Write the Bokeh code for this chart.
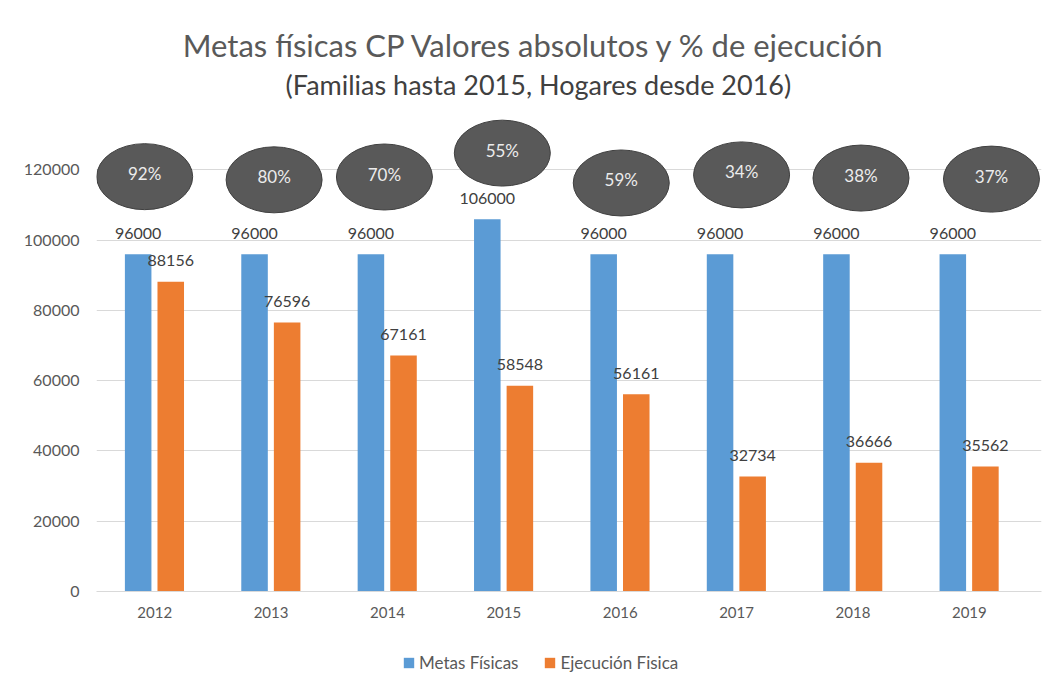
from bokeh.plotting import figure
from bokeh.layouts import column
from bokeh.models import (Range1d, FixedTicker, Label, Legend, LegendItem,
                          ColumnDataSource)
from bokeh.transform import dodge
from bokeh.embed import file_html
from bokeh.resources import INLINE
from bokeh.core.properties import value

# ---------------- data ----------------
years = ["2012", "2013", "2014", "2015", "2016", "2017", "2018", "2019"]
metas = [96000, 96000, 96000, 106000, 96000, 96000, 96000, 96000]
ejecucion = [88156, 76596, 67161, 58548, 56161, 32734, 36666, 35562]
y_ticks = [0, 20000, 40000, 60000, 80000, 100000, 120000]
series_names = ["Metas Físicas", "Ejecución Fisica"]

# ---------------- layout constants (bubble placement) ----------------
ELL_DX = [-0.086, 0.026, -0.026, -0.013, 0.009, 0.043, 0.069, 0.19]
ELL_Y = [118100, 117200, 118000, 124800, 116300, 118600, 117700, 117400]

FONT = "Lato"
BLUE = "#5B9BD5"
ORANGE = "#ED7D31"

idx = list(range(len(years)))
pct = [f"{round(e / m * 100)}%" for e, m in zip(ejecucion, metas)]

src = ColumnDataSource(dict(
    x=idx, metas=metas, ejec=ejecucion,
    metas_lbl=[str(v) for v in metas],
    ejec_lbl=[str(v) for v in ejecucion],
    ex=[i + d for i, d in zip(idx, ELL_DX)], ey=ELL_Y, pct=pct,
))

p = figure(width=1045, height=630, output_backend="svg", toolbar_location=None,
           title=None,
           x_range=Range1d(-0.5, 7.62), y_range=Range1d(0, 168250),
           min_border_left=96, min_border_right=4, min_border_top=0,
           min_border_bottom=39)
p.outline_line_color = None
p.background_fill_color = "white"
p.border_fill_color = "white"

# axes
p.xaxis.ticker = FixedTicker(ticks=idx)
p.xaxis.major_label_overrides = {i: y for i, y in zip(idx, years)}
p.xaxis.axis_line_color = "#d9d9d9"
p.xaxis.major_tick_line_color = None
p.xaxis.minor_tick_line_color = None
p.xaxis.major_label_text_font = FONT
p.xaxis.major_label_text_font_size = "15px"
p.xaxis.major_label_text_color = "#595959"
p.xaxis.major_label_standoff = 9

p.yaxis.ticker = FixedTicker(ticks=y_ticks)
p.yaxis.axis_line_color = None
p.yaxis.major_tick_line_color = None
p.yaxis.minor_tick_line_color = None
p.yaxis.major_label_text_font = FONT
p.yaxis.major_label_text_font_size = "16px"
p.yaxis.major_label_text_color = "#595959"
p.yaxis.major_label_standoff = 11
p.yaxis.formatter.use_scientific = False

p.xgrid.grid_line_color = None
p.ygrid.grid_line_color = "#d9d9d9"
p.ygrid.grid_line_width = 1

# bars
r1 = p.vbar(x=dodge("x", -0.142, range=p.x_range), top="metas", width=0.228,
            source=src, fill_color=BLUE, line_color=None)
r2 = p.vbar(x=dodge("x", 0.138, range=p.x_range), top="ejec", width=0.228,
            source=src, fill_color=ORANGE, line_color=None)

# data labels
p.text(x=dodge("x", -0.142, range=p.x_range), y="metas", text="metas_lbl",
       source=src, text_align="center", text_baseline="middle", y_offset=-21,
       text_font=value(FONT), text_font_size="16px", text_color="#404040")
p.text(x=dodge("x", 0.138, range=p.x_range), y="ejec", text="ejec_lbl",
       source=src, text_align="center", text_baseline="middle", y_offset=-21,
       text_font=value(FONT), text_font_size="16px", text_color="#404040")

# percentage bubbles
p.ellipse(x="ex", y="ey", width=96, height=66, width_units="screen",
          height_units="screen", source=src, fill_color="#595959",
          line_color="#404040", line_width=1)
p.text(x="ex", y="ey", text="pct", source=src, text_align="center",
       text_baseline="middle", y_offset=-3, text_font=value(FONT),
       text_font_size="17px", text_color="#ececec")

# titles
p.add_layout(Label(x=3.297, y=155587, text="Metas físicas CP Valores absolutos y  % de ejecución",
                   text_align="center", text_baseline="middle", text_font=FONT,
                   text_font_size="31px", text_color="#595959"))
p.add_layout(Label(x=3.297, y=144200, text="(Familias hasta 2015, Hogares desde 2016)",
                   text_align="center", text_baseline="middle", text_font=FONT,
                   text_font_size="27px", text_color="#404040"))

# legend (in its own strip below the chart)
q = figure(width=1045, height=45, output_backend="svg", toolbar_location=None,
           title=None, x_range=Range1d(0, 1), y_range=Range1d(0, 1),
           min_border_left=96, min_border_right=4, min_border_top=0,
           min_border_bottom=0)
q.axis.visible = False
q.grid.visible = False
q.outline_line_color = None
q.border_fill_color = "white"
q.background_fill_color = "white"
# placeholder glyphs (outside the visible range) that only supply legend swatches
l1 = q.quad(left=[5], right=[6], bottom=[0], top=[1], fill_color=BLUE, line_color=None)
l2 = q.quad(left=[5], right=[6], bottom=[0], top=[1], fill_color=ORANGE, line_color=None)
legend = Legend(items=[LegendItem(label=series_names[0], renderers=[l1]),
                       LegendItem(label=series_names[1], renderers=[l2])],
                orientation="horizontal", location=(306, 2),
                border_line_color=None, background_fill_alpha=0,
                label_text_font=FONT, label_text_font_size="17px",
                label_text_color="#595959", glyph_width=13, glyph_height=13,
                spacing=25, label_standoff=4, margin=0, padding=6)
q.add_layout(legend, "center")

open("out.html", "w").write(file_html(column(p, q, spacing=0), INLINE))
